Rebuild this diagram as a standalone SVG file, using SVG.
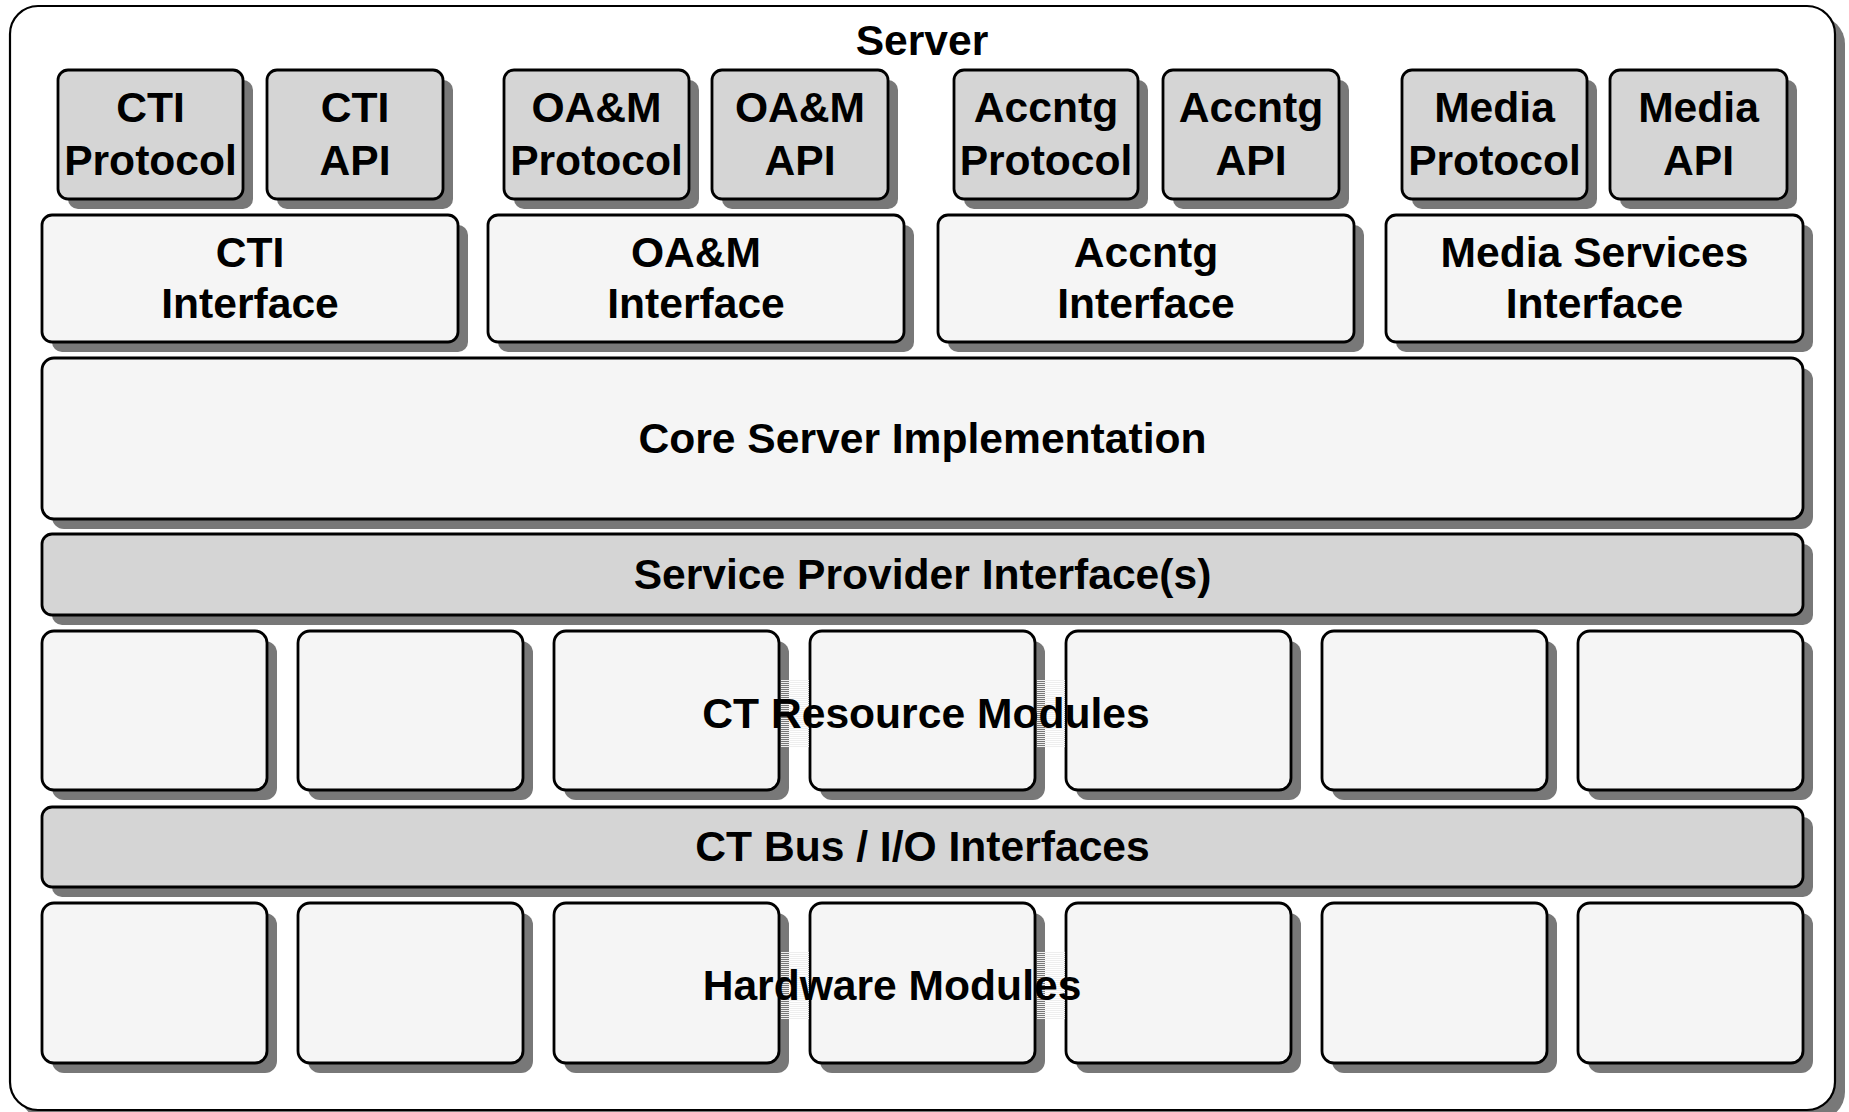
<svg xmlns="http://www.w3.org/2000/svg" width="1849" height="1112" viewBox="0 0 1849 1112">
  <style>
    .shadow { fill: #787878; }
    .frame { fill: #ffffff; stroke: #000000; stroke-width: 2.2; }
    .box { stroke: #000000; stroke-width: 2.8; }
    .grey { fill: #d5d5d5; }
    .light { fill: #f5f5f5; }
    .label { font-family: "Liberation Sans", Arial, Helvetica, sans-serif; font-weight: bold; font-size: 42.6px; text-anchor: middle; fill: #000000; }
    .hatch { fill: url(#hatch); }
  </style>
  <defs>
    <!-- fine horizontal ruling left behind by the label background -->
    <pattern id="hatch" x="0" y="0" width="4" height="2" patternUnits="userSpaceOnUse">
      <rect x="0" y="0" width="4" height="1" fill="#eeeeee"/>
    </pattern>
  </defs>

  <!-- server enclosure -->
  <g id="server">
    <rect class="shadow" x="20" y="16" width="1825" height="1104" rx="28" ry="28"/>
    <rect class="frame" x="10" y="6" width="1825" height="1104" rx="28" ry="28"/>
    <text class="label" x="922" y="55">Server</text>
  </g>

  <!-- protocol / API row -->
  <g id="cti-protocol">
    <rect class="shadow" x="68" y="80" width="185" height="129" rx="10"/>
    <rect class="box grey" x="58" y="70" width="185" height="129" rx="10"/>
    <text class="label" x="150.5" y="122">CTI</text>
    <text class="label" x="150.5" y="175">Protocol</text>
  </g>
  <g id="cti-api">
    <rect class="shadow" x="277" y="80" width="176" height="129" rx="10"/>
    <rect class="box grey" x="267" y="70" width="176" height="129" rx="10"/>
    <text class="label" x="355" y="122">CTI</text>
    <text class="label" x="355" y="175">API</text>
  </g>
  <g id="oam-protocol">
    <rect class="shadow" x="514" y="80" width="185" height="129" rx="10"/>
    <rect class="box grey" x="504" y="70" width="185" height="129" rx="10"/>
    <text class="label" x="596.5" y="122">OA&amp;M</text>
    <text class="label" x="596.5" y="175">Protocol</text>
  </g>
  <g id="oam-api">
    <rect class="shadow" x="722" y="80" width="176" height="129" rx="10"/>
    <rect class="box grey" x="712" y="70" width="176" height="129" rx="10"/>
    <text class="label" x="800" y="122">OA&amp;M</text>
    <text class="label" x="800" y="175">API</text>
  </g>
  <g id="accntg-protocol">
    <rect class="shadow" x="964" y="80" width="184" height="129" rx="10"/>
    <rect class="box grey" x="954" y="70" width="184" height="129" rx="10"/>
    <text class="label" x="1046" y="122">Accntg</text>
    <text class="label" x="1046" y="175">Protocol</text>
  </g>
  <g id="accntg-api">
    <rect class="shadow" x="1173" y="80" width="176" height="129" rx="10"/>
    <rect class="box grey" x="1163" y="70" width="176" height="129" rx="10"/>
    <text class="label" x="1251" y="122">Accntg</text>
    <text class="label" x="1251" y="175">API</text>
  </g>
  <g id="media-protocol">
    <rect class="shadow" x="1412" y="80" width="185" height="129" rx="10"/>
    <rect class="box grey" x="1402" y="70" width="185" height="129" rx="10"/>
    <text class="label" x="1494.5" y="122">Media</text>
    <text class="label" x="1494.5" y="175">Protocol</text>
  </g>
  <g id="media-api">
    <rect class="shadow" x="1620" y="80" width="177" height="129" rx="10"/>
    <rect class="box grey" x="1610" y="70" width="177" height="129" rx="10"/>
    <text class="label" x="1698.5" y="122">Media</text>
    <text class="label" x="1698.5" y="175">API</text>
  </g>

  <!-- interface row -->
  <g id="cti-interface">
    <rect class="shadow" x="52" y="225" width="416" height="127" rx="10"/>
    <rect class="box light" x="42" y="215" width="416" height="127" rx="10"/>
    <text class="label" x="250" y="267">CTI</text>
    <text class="label" x="250" y="318">Interface</text>
  </g>
  <g id="oam-interface">
    <rect class="shadow" x="498" y="225" width="416" height="127" rx="10"/>
    <rect class="box light" x="488" y="215" width="416" height="127" rx="10"/>
    <text class="label" x="696" y="267">OA&amp;M</text>
    <text class="label" x="696" y="318">Interface</text>
  </g>
  <g id="accntg-interface">
    <rect class="shadow" x="948" y="225" width="416" height="127" rx="10"/>
    <rect class="box light" x="938" y="215" width="416" height="127" rx="10"/>
    <text class="label" x="1146" y="267">Accntg</text>
    <text class="label" x="1146" y="318">Interface</text>
  </g>
  <g id="media-services-interface">
    <rect class="shadow" x="1396" y="225" width="417" height="127" rx="10"/>
    <rect class="box light" x="1386" y="215" width="417" height="127" rx="10"/>
    <text class="label" x="1594.5" y="267">Media Services</text>
    <text class="label" x="1594.5" y="318">Interface</text>
  </g>

  <!-- core -->
  <g id="core-server">
    <rect class="shadow" x="52" y="368" width="1761" height="161" rx="12"/>
    <rect class="box light" x="42" y="358" width="1761" height="161" rx="12"/>
    <text class="label" x="922.5" y="453">Core Server Implementation</text>
  </g>

  <!-- service provider interfaces -->
  <g id="spi">
    <rect class="shadow" x="52" y="544" width="1761" height="81" rx="10"/>
    <rect class="box grey" x="42" y="534" width="1761" height="81" rx="10"/>
    <text class="label" x="922.5" y="589">Service Provider Interface(s)</text>
  </g>

  <!-- CT resource modules -->
  <g id="ct-resource-modules">
    <rect class="shadow" x="52" y="641" width="225" height="159" rx="12"/>
    <rect class="box light" x="42" y="631" width="225" height="159" rx="12"/>
    <rect class="shadow" x="308" y="641" width="225" height="159" rx="12"/>
    <rect class="box light" x="298" y="631" width="225" height="159" rx="12"/>
    <rect class="shadow" x="564" y="641" width="225" height="159" rx="12"/>
    <rect class="box light" x="554" y="631" width="225" height="159" rx="12"/>
    <rect class="shadow" x="820" y="641" width="225" height="159" rx="12"/>
    <rect class="box light" x="810" y="631" width="225" height="159" rx="12"/>
    <rect class="shadow" x="1076" y="641" width="225" height="159" rx="12"/>
    <rect class="box light" x="1066" y="631" width="225" height="159" rx="12"/>
    <rect class="shadow" x="1332" y="641" width="225" height="159" rx="12"/>
    <rect class="box light" x="1322" y="631" width="225" height="159" rx="12"/>
    <rect class="shadow" x="1588" y="641" width="225" height="159" rx="12"/>
    <rect class="box light" x="1578" y="631" width="225" height="159" rx="12"/>
    <rect class="hatch" x="781" y="680" width="28" height="68"/>
    <rect class="hatch" x="1037" y="680" width="28" height="68"/>
    <text class="label" x="926" y="728">CT Resource Modules</text>
  </g>

  <!-- CT bus -->
  <g id="ct-bus">
    <rect class="shadow" x="52" y="817" width="1761" height="80" rx="10"/>
    <rect class="box grey" x="42" y="807" width="1761" height="80" rx="10"/>
    <text class="label" x="922.5" y="861">CT Bus / I/O Interfaces</text>
  </g>

  <!-- hardware modules -->
  <g id="hardware-modules">
    <rect class="shadow" x="52" y="913" width="225" height="160" rx="12"/>
    <rect class="box light" x="42" y="903" width="225" height="160" rx="12"/>
    <rect class="shadow" x="308" y="913" width="225" height="160" rx="12"/>
    <rect class="box light" x="298" y="903" width="225" height="160" rx="12"/>
    <rect class="shadow" x="564" y="913" width="225" height="160" rx="12"/>
    <rect class="box light" x="554" y="903" width="225" height="160" rx="12"/>
    <rect class="shadow" x="820" y="913" width="225" height="160" rx="12"/>
    <rect class="box light" x="810" y="903" width="225" height="160" rx="12"/>
    <rect class="shadow" x="1076" y="913" width="225" height="160" rx="12"/>
    <rect class="box light" x="1066" y="903" width="225" height="160" rx="12"/>
    <rect class="shadow" x="1332" y="913" width="225" height="160" rx="12"/>
    <rect class="box light" x="1322" y="903" width="225" height="160" rx="12"/>
    <rect class="shadow" x="1588" y="913" width="225" height="160" rx="12"/>
    <rect class="box light" x="1578" y="903" width="225" height="160" rx="12"/>
    <rect class="hatch" x="781" y="952" width="28" height="68"/>
    <rect class="hatch" x="1037" y="952" width="28" height="68"/>
    <text class="label" x="892" y="1000">Hardware Modules</text>
  </g>
</svg>
